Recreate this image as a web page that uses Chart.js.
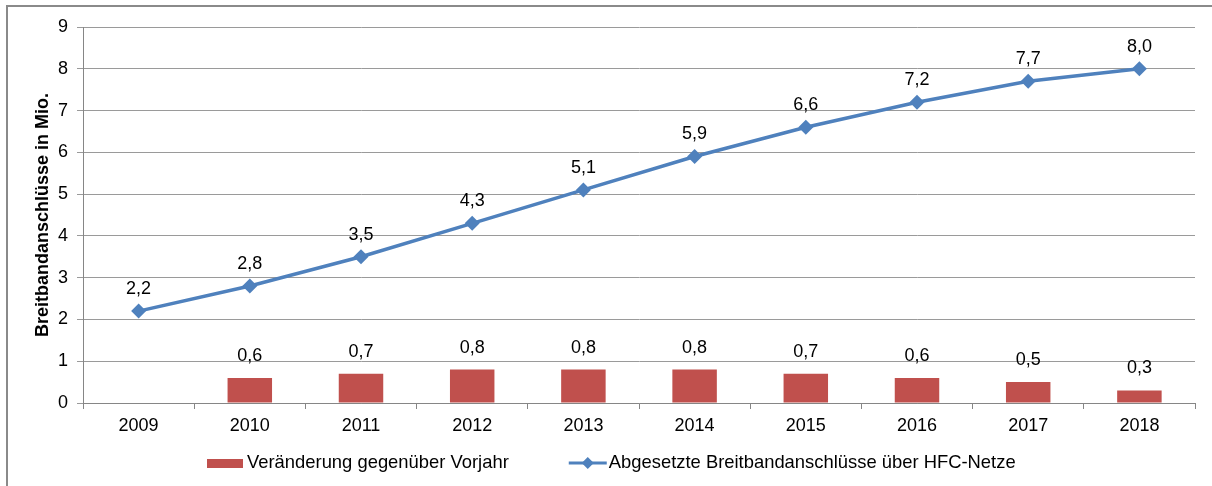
<!DOCTYPE HTML>
<html lang="de">
<head>
  <meta http-equiv="content-type" content="text/html; charset=UTF-8">
  <script src="https://cdn.jsdelivr.net/npm/chart.js"></script>
  <style>
    html, body { margin:0; padding:0; background:#fff; overflow:hidden; }
    #frame { position:absolute; left:6px; top:5px; width:1230px; height:520px; border:2px solid #8a8a8a; box-sizing:border-box; }
    #wrap { position:absolute; left:0; top:0; width:1212px; height:486px; }
  </style>
</head>
<body>
  <div id="frame"></div>
  <div id="wrap"><canvas id="chart"></canvas></div>

  <script>
    // Data //
    const years = ['2009','2010','2011','2012','2013','2014','2015','2016','2017','2018'];
    const anschluesse = [2.2, 2.8, 3.5, 4.3, 5.1, 5.9, 6.6, 7.2, 7.7, 8.0];
    const veraenderung = [null, 0.6, 0.7, 0.8, 0.8, 0.8, 0.7, 0.6, 0.5, 0.3];
    const yTicks = [0, 1, 2, 3, 4, 5, 6, 7, 8, 9];

    const barLabel = 'Veränderung gegenüber Vorjahr';
    const lineLabel = 'Abgesetzte Breitbandanschlüsse über HFC-Netze';
    const red = '#C0504D';
    const blue = '#4F81BD';
    const font = '"Liberation Sans", Arial, sans-serif';

    const fmt = v => v.toFixed(1).replace('.', ',');

    // value labels above bars and points
    const valueLabels = {
        id: 'valueLabels',
        afterDatasetsDraw(chart) {
            const ctx = chart.ctx;
            ctx.save();
            ctx.font = '18px ' + font;
            ctx.fillStyle = '#000';
            ctx.textAlign = 'center';
            ctx.textBaseline = 'middle';
            chart.data.datasets.forEach((ds, i) => {
                const meta = chart.getDatasetMeta(i);
                meta.data.forEach((el, j) => {
                    const v = ds.data[j];
                    if (v == null) return;
                    ctx.fillText(fmt(v), el.x, el.y - 22);
                });
            });
            ctx.restore();
        }
    };

    // legend in Excel style at the bottom
    const bottomLegend = {
        id: 'bottomLegend',
        afterDraw(chart) {
            const ctx = chart.ctx;
            ctx.save();
            ctx.font = '18.4px ' + font;
            ctx.textBaseline = 'middle';
            const y = 463;
            const w1 = ctx.measureText(barLabel).width;
            let x = 207;
            ctx.fillStyle = red;
            ctx.fillRect(x, y - 4, 36, 9);
            x += 40;
            ctx.fillStyle = '#000';
            ctx.fillText(barLabel, x, y);
            x += w1 + 60;
            ctx.strokeStyle = blue;
            ctx.lineWidth = 3;
            ctx.beginPath(); ctx.moveTo(x, y); ctx.lineTo(x + 38, y); ctx.stroke();
            ctx.fillStyle = blue;
            ctx.beginPath();
            ctx.moveTo(x + 19, y - 6); ctx.lineTo(x + 25, y); ctx.lineTo(x + 19, y + 6); ctx.lineTo(x + 13, y);
            ctx.closePath(); ctx.fill();
            x += 40;
            ctx.fillStyle = '#000';
            ctx.fillText(lineLabel, x, y);
            ctx.restore();
        }
    };

    new Chart(document.getElementById('chart'), {
        data: {
            labels: years,
            datasets: [
                {
                    type: 'line',
                    label: lineLabel,
                    data: anschluesse,
                    borderColor: blue,
                    backgroundColor: blue,
                    borderWidth: 3.5,
                    pointStyle: 'rectRot',
                    pointRadius: 7.5,
                    pointHoverRadius: 7.5,
                    pointBorderWidth: 0,
                    tension: 0,
                    order: 0,
                },
                {
                    type: 'bar',
                    label: barLabel,
                    data: veraenderung,
                    backgroundColor: red,
                    categoryPercentage: 1,
                    barPercentage: 0.4,
                    order: 1,
                },
            ],
        },
        options: {
            responsive: true,
            maintainAspectRatio: false,
            animation: false,
            layout: { padding: { top: 27, right: 17, left: 0, bottom: 0 } },
            plugins: {
                legend: { display: false },
                tooltip: { enabled: false },
            },
            scales: {
                x: {
                    offset: true,
                    grid: { offset: true, drawOnChartArea: false, drawTicks: true, tickLength: 6, color: '#868686' },
                    border: { color: '#868686', width: 1 },
                    ticks: { color: '#000', font: { size: 18, family: font }, padding: 6, maxRotation: 0 },
                    afterFit(s) { s.height = 83; },
                },
                y: {
                    min: 0,
                    max: 9,
                    afterBuildTicks(s) { s.ticks = yTicks.map(v => ({ value: v })); },
                    grid: { color: '#9a9a9a', tickLength: 6 },
                    border: { color: '#868686', width: 1 },
                    ticks: { color: '#000', font: { size: 18, family: font }, padding: 9 },
                    title: {
                        display: true,
                        text: 'Breitbandanschlüsse in Mio.',
                        color: '#000',
                        font: { size: 18, weight: 'bold', family: font },
                        padding: { top: 32, bottom: 0 },
                    },
                    afterFit(s) { s.width = 83; },
                },
            },
        },
        plugins: [valueLabels, bottomLegend],
    });
  </script>
</body>
</html>
